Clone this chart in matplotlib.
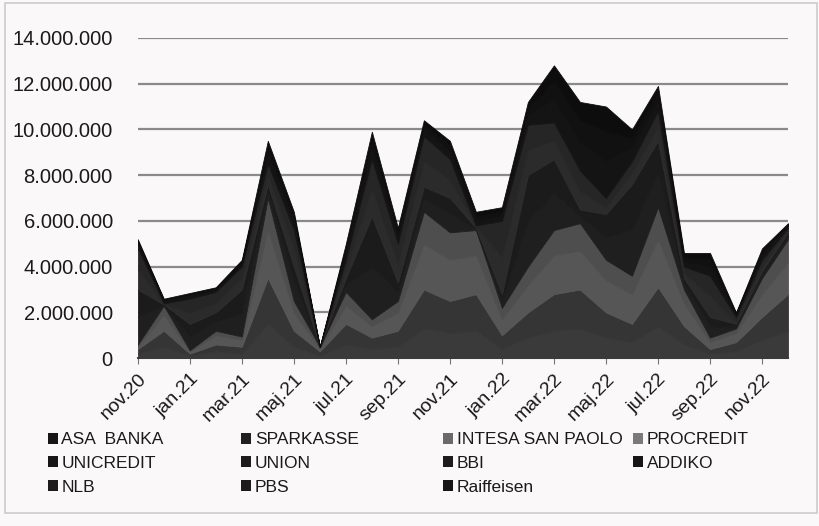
import numpy as np
import matplotlib.pyplot as plt
from matplotlib.ticker import FuncFormatter, MultipleLocator
from matplotlib.patches import Patch, Rectangle

# months nov.20 .. dec.22
months = ['nov.20', 'dec.20', 'jan.21', 'feb.21', 'mar.21', 'apr.21', 'maj.21', 'jun.21',
          'jul.21', 'avg.21', 'sep.21', 'okt.21', 'nov.21', 'dec.21', 'jan.22', 'feb.22',
          'mar.22', 'apr.22', 'maj.22', 'jun.22', 'jul.22', 'avg.22', 'sep.22', 'okt.22',
          'nov.22', 'dec.22']

# values in millions (stacked bottom -> top)
asa_banka  = [0.2, 0.5, 0.1, 0.3, 0.2, 1.5, 0.5, 0.1, 0.6, 0.4, 0.5, 1.3, 1.1, 1.2, 0.4, 0.9, 1.2, 1.3, 0.9, 0.7, 1.4, 0.6, 0.2, 0.3, 0.8, 1.2]
sparkasse  = [0.2, 0.7, 0.1, 0.3, 0.3, 2.0, 0.7, 0.2, 0.9, 0.5, 0.7, 1.7, 1.4, 1.6, 0.6, 1.1, 1.6, 1.7, 1.1, 0.8, 1.7, 0.8, 0.2, 0.4, 1.0, 1.6]
intesa     = [0.1, 0.7, 0.1, 0.4, 0.3, 2.1, 0.8, 0.1, 0.8, 0.5, 0.8, 2.0, 1.8, 1.7, 0.7, 1.2, 1.7, 1.7, 1.4, 1.3, 2.1, 1.0, 0.3, 0.4, 1.0, 1.4]
procredit  = [0.1, 0.4, 0.05, 0.2, 0.15, 1.4, 0.5, 0.1, 0.6, 0.3, 0.5, 1.4, 1.2, 1.1, 0.5, 0.8, 1.1, 1.2, 0.9, 0.8, 1.4, 0.6, 0.2, 0.2, 0.7, 1.0]
unicredit  = [1.2, 0.0, 0.6, 0.4, 1.0, 0.3, 0.8, 0.0, 0.3, 2.3, 0.4, 0.6, 0.8, 0.05, 0.3, 2.0, 1.6, 0.3, 1.0, 2.0, 1.5, 0.25, 0.45, 0.1, 0.15, 0.15]
union      = [1.2, 0.05, 0.55, 0.4, 1.05, 0.3, 0.7, 0.0, 0.3, 2.2, 0.4, 0.5, 0.7, 0.05, 0.3, 2.0, 1.5, 0.3, 1.0, 2.0, 1.4, 0.25, 0.45, 0.1, 0.15, 0.15]
bbi        = [0.9, 0.0, 0.5, 0.4, 0.5, 0.4, 0.8, 0.0, 0.4, 1.2, 0.8, 1.1, 0.8, 0.05, 1.6, 1.1, 0.8, 0.8, 0.3, 0.5, 0.6, 0.2, 0.9, 0.1, 0.2, 0.1]
addiko     = [0.9, 0.05, 0.6, 0.5, 0.5, 0.5, 0.8, 0.0, 0.4, 1.3, 0.9, 1.1, 0.9, 0.05, 1.6, 1.1, 0.8, 0.9, 0.4, 0.5, 0.7, 0.3, 0.9, 0.2, 0.3, 0.1]
nlb        = [0.2, 0.1, 0.1, 0.1, 0.1, 0.4, 0.3, 0.0, 0.3, 0.5, 0.3, 0.3, 0.3, 0.2, 0.2, 0.4, 1.0, 1.2, 1.6, 0.6, 0.4, 0.2, 0.4, 0.1, 0.2, 0.1]
pbs        = [0.1, 0.05, 0.1, 0.05, 0.1, 0.3, 0.3, 0.0, 0.2, 0.4, 0.2, 0.2, 0.3, 0.2, 0.2, 0.3, 0.8, 1.0, 1.3, 0.4, 0.4, 0.2, 0.3, 0.05, 0.15, 0.05]
raiffeisen = [0.1, 0.05, 0.05, 0.05, 0.1, 0.3, 0.2, 0.0, 0.2, 0.3, 0.2, 0.2, 0.2, 0.2, 0.2, 0.3, 0.7, 0.8, 1.1, 0.4, 0.3, 0.2, 0.3, 0.05, 0.15, 0.05]

names = ['ASA  BANKA', 'SPARKASSE', 'INTESA SAN PAOLO', 'PROCREDIT', 'UNICREDIT', 'UNION',
         'BBI', 'ADDIKO', 'NLB', 'PBS', 'Raiffeisen']
series = [asa_banka, sparkasse, intesa, procredit, unicredit, union, bbi, addiko, nlb, pbs, raiffeisen]
colors = ['#3a3a3a', '#353535', '#565656', '#4e4e4e', '#1f1f1f', '#1b1b1b',
          '#2b2b2b', '#262626', '#141414', '#111111', '#0d0d0d']
legend_colors = ['#161616', '#202020', '#6a6a6a', '#7a7a7a', '#161616', '#1c1c1c',
                 '#1c1c1c', '#161616', '#1c1c1c', '#1c1c1c', '#161616']

plt.rcParams['font.family'] = ['Liberation Sans', 'DejaVu Sans']

fig = plt.figure(figsize=(8.2, 5.26), dpi=100, facecolor='#faf8f8')
ax = fig.add_axes([0.168, 0.319, 0.793, 0.609])
ax.set_facecolor('#faf8f8')

x = np.arange(len(months))
ax.stackplot(x, *[np.array(s) * 1e6 for s in series], colors=colors,
             edgecolor='face', linewidth=0.6, zorder=3)

ax.set_xlim(0, len(months) - 1)
ax.set_ylim(0, 14e6)
ax.yaxis.set_major_locator(MultipleLocator(2e6))
ax.yaxis.set_major_formatter(FuncFormatter(lambda v, p: f'{int(v):,}'.replace(',', '.')))
ax.grid(axis='y', color='#8a8a8a', linewidth=1.6, zorder=0)
ax.tick_params(axis='y', length=0, pad=18, labelsize=14.5, labelcolor='#1a1a1a')

ax.set_xticks(x[::2])
ax.set_xticklabels(months[::2], rotation=45, ha='right', rotation_mode='anchor',
                   fontsize=14, color='#1a1a1a')
ax.tick_params(axis='x', length=4, color='#777777', pad=5)

for s in ['top', 'right', 'left']:
    ax.spines[s].set_visible(False)
ax.spines['bottom'].set_color('#444444')
ax.spines['bottom'].set_linewidth(1.5)

# legend: Excel style, four equally spaced columns
cols = [[0, 4, 8], [1, 5, 9], [2, 6, 10], [3, 7]]
col_x = [0.058, 0.294, 0.540, 0.772]
for cx, idx in zip(col_x, cols):
    handles = [Patch(facecolor=legend_colors[i], edgecolor='none') for i in idx]
    fig.legend(handles, [names[i] for i in idx], loc='upper left',
               bbox_to_anchor=(cx, 0.178), frameon=False, fontsize=12.5,
               handlelength=0.6, handleheight=0.6, handletextpad=0.2,
               labelspacing=0.5, borderpad=0, borderaxespad=0, labelcolor='#1a1a1a')

# faint scan frame
fig.patches.append(Rectangle((0.006, 0.025), 0.99, 0.97, transform=fig.transFigure,
                             fill=False, edgecolor='#cccccc', linewidth=1.2))

fig.savefig('out.png', dpi=100, facecolor=fig.get_facecolor())
